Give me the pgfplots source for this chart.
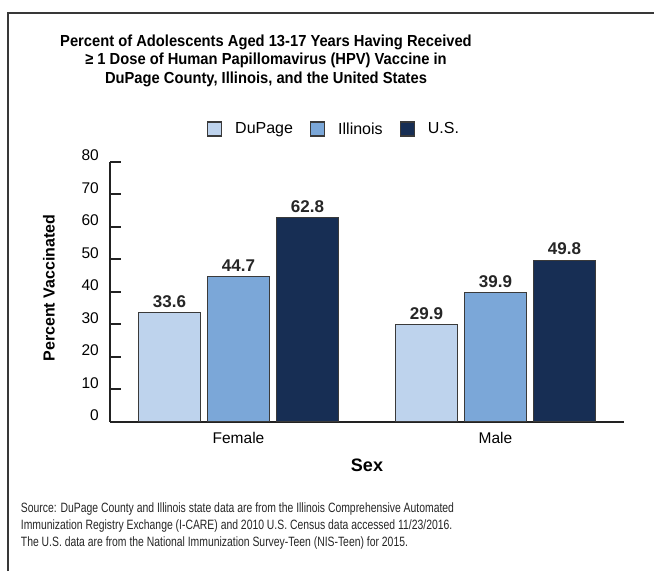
\documentclass[border=0pt]{standalone}
\usepackage{fontspec}
\setmainfont{Liberation Sans}
\newfontfamily\titlefont[FakeStretch=0.92]{Liberation Sans}
\newfontfamily\srcfont[FakeStretch=0.77]{Liberation Sans}
\usepackage{pgfplots}
\pgfplotsset{compat=1.18}
\definecolor{cDu}{HTML}{BED3ED}
\definecolor{cIl}{HTML}{7BA7D8}
\definecolor{cUS}{HTML}{172E54}
\definecolor{cEdge}{HTML}{3A3A3A}
\definecolor{cAx}{HTML}{222222}
\begin{document}
\begin{tikzpicture}
\useasboundingbox (0pt,0pt) rectangle (654pt,571pt);
\draw[line width=2pt, draw=cAx!90] (8pt,0pt) -- (8pt,558pt) -- (654pt,558pt);
\begin{axis}[
  at={(110pt,149pt)}, anchor=south west,
  width=514pt, height=260pt, scale only axis,
  xmin=-0.5, xmax=1.5, ymin=0, ymax=80,
  axis x line*=bottom, axis y line*=left,
  axis line style={-, line width=2pt, draw=cAx},
  ybar=7pt, bar width=62pt,
  ytick={0,10,...,80},
  tick align=inside,
  major tick length=11pt,
  ytick style={line width=2pt, draw=cAx},
  xtick={0,1}, xticklabels={Female,Male},
  xtick style={draw=none},
  extra x ticks={0.5,1.5}, extra x tick labels={},
  extra x tick style={major tick length=5pt, tick style={draw=cAx, line width=1.5pt}},
  /pgf/number format/assume math mode=true,
  yticklabel style={font=\fontsize{15.5pt}{18pt}\selectfont, inner sep=0pt, xshift=-11pt, yshift=6.5pt},
  xticklabel style={font=\fontsize{15.5pt}{18pt}\selectfont, inner sep=0pt, yshift=-10pt},
  xlabel={Sex},
  xlabel style={font=\bfseries\fontsize{18pt}{21pt}\selectfont, at={(axis description cs:0.5,-0.191)}, anchor=base, inner sep=0pt},
  ylabel={Percent Vaccinated},
  ylabel style={font=\bfseries\fontsize{16pt}{19pt}\selectfont, at={(axis description cs:-0.1187,0.5154)}, anchor=center, rotate=0, inner sep=0pt},
  title={Percent of Adolescents Aged 13-17 Years Having Received\\≥ 1 Dose of Human Papillomavirus (HPV) Vaccine in\\DuPage County, Illinois, and the United States},
  title style={font=\titlefont\bfseries\fontsize{16pt}{18.5pt}\selectfont, align=center, at={(axis description cs:0.3035,1.468)}, anchor=north, inner sep=0pt},
  nodes near coords={\pgfmathprintnumber[assume math mode=true,fixed,fixed zerofill,precision=1]{\pgfplotspointmeta}},
  every node near coord/.append style={font=\bfseries\fontsize{17pt}{20pt}\selectfont, text=black!85, anchor=south, inner sep=0pt, yshift=4.4pt},
  legend columns=3,
  legend style={at={(axis description cs:0.4339,1.1269)}, anchor=center, draw=none, fill=none,
    font=\fontsize{16pt}{19pt}\selectfont,
    /tikz/every odd column/.append style={column sep=13pt},
    /tikz/every even column/.append style={column sep=17pt},
    nodes={inner sep=0pt}},
  legend image code/.code={\draw[#1, draw=cEdge, line width=1.2pt] (0pt,-7pt) rectangle (14pt,7pt);},
]
\addplot[fill=cDu, draw=cEdge, line width=1.2pt] coordinates {(0,33.6) (1,29.9)};
\addplot[fill=cIl, draw=cEdge, line width=1.2pt] coordinates {(0,44.7) (1,39.9)};
\addplot[fill=cUS, draw=cEdge, line width=1.2pt] coordinates {(0,62.8) (1,49.8)};
\legend{DuPage,Illinois,U.S.}
\end{axis}
\node[anchor=base west, inner sep=0pt, font=\srcfont\fontsize{13.5pt}{16pt}\selectfont, text=black!85] at (20.7pt,58.3pt) {Source: DuPage County and Illinois state data are from the Illinois Comprehensive Automated};
\node[anchor=base west, inner sep=0pt, font=\srcfont\fontsize{13.5pt}{16pt}\selectfont, text=black!85] at (20.7pt,41.7pt) {Immunization Registry Exchange (I-CARE) and 2010 U.S. Census data accessed 11/23/2016.};
\node[anchor=base west, inner sep=0pt, font=\srcfont\fontsize{13.5pt}{16pt}\selectfont, text=black!85] at (20.7pt,25pt) {The U.S. data are from the National Immunization Survey-Teen (NIS-Teen) for 2015.};
\end{tikzpicture}
\end{document}
